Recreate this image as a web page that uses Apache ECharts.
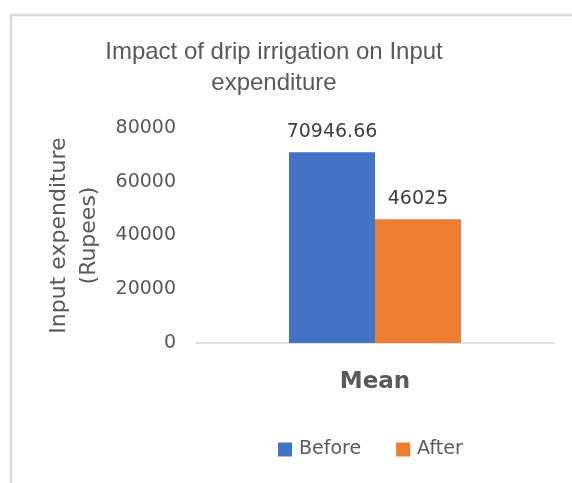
<!DOCTYPE html>
<html>
<head>
<meta charset="utf-8">
<script src="https://cdn.jsdelivr.net/npm/echarts@6/dist/echarts.min.js"></script>
<style>
html,body{margin:0;padding:0;background:#fff;}
#chart{width:572px;height:483px;}
</style>
</head>
<body>
<div id="chart"></div>
<script>
var categories = ['Mean'];
var seriesNames = ['Before', 'After'];
var beforeValues = [70946.66];
var afterValues = [46025];
var yTicks = [0, 20000, 40000, 60000, 80000];

var chart = echarts.init(document.getElementById('chart'));
var font = 'DejaVu Sans';
chart.setOption({
  animation: false,
  color: ['#4472C4', '#ED7D31'],
  graphic: [
    {type: 'rect', shape: {x: 11, y: 15, width: 620, height: 520},
     style: {fill: 'none', stroke: '#d9d9d9', lineWidth: 2.5}, silent: true},
    {type: 'text', x: 274, y: 67.5,
     style: {text: 'Impact of drip irrigation on Input\nexpenditure', fill: '#595959',
       font: '24px "Liberation Sans"', align: 'center', verticalAlign: 'middle', lineHeight: 31}}
  ],
  grid: {left: 196, right: 18, top: 128, bottom: 140},
  legend: {
    data: seriesNames, left: 273, top: 435, icon: 'rect', itemWidth: 14, itemHeight: 14, itemGap: 35,
    textStyle: {fontFamily: font, fontSize: 19, color: '#595959', padding: [0, 0, 0, 2]}
  },
  xAxis: {
    type: 'category', data: categories,
    axisLine: {lineStyle: {color: '#d9d9d9', width: 1.5}},
    axisTick: {show: false},
    axisLabel: {fontFamily: font, fontSize: 23, fontWeight: 'bold', color: '#595959', margin: 28}
  },
  yAxis: {
    type: 'value', min: yTicks[0], max: yTicks[yTicks.length - 1], interval: yTicks[1] - yTicks[0],
    name: 'Input expenditure\n(Rupees)', nameLocation: 'middle', nameRotate: 90, nameGap: 86,
    nameTextStyle: {fontFamily: font, fontSize: 22, color: '#595959', lineHeight: 30, align: 'center'},
    axisLine: {show: false}, axisTick: {show: false}, splitLine: {show: false},
    axisLabel: {fontFamily: font, fontSize: 19, color: '#595959', margin: 20,
      formatter: function (v) { return String(v); }}
  },
  series: [
    {name: seriesNames[0], type: 'bar', data: beforeValues, barWidth: 86, barGap: '0%',
     label: {show: true, position: 'top', distance: 11, fontFamily: font, fontSize: 19, color: '#404040'}},
    {name: seriesNames[1], type: 'bar', data: afterValues, barWidth: 86, barGap: '0%',
     label: {show: true, position: 'top', distance: 11, fontFamily: font, fontSize: 19, color: '#404040'}}
  ]
});
</script>
</body>
</html>
